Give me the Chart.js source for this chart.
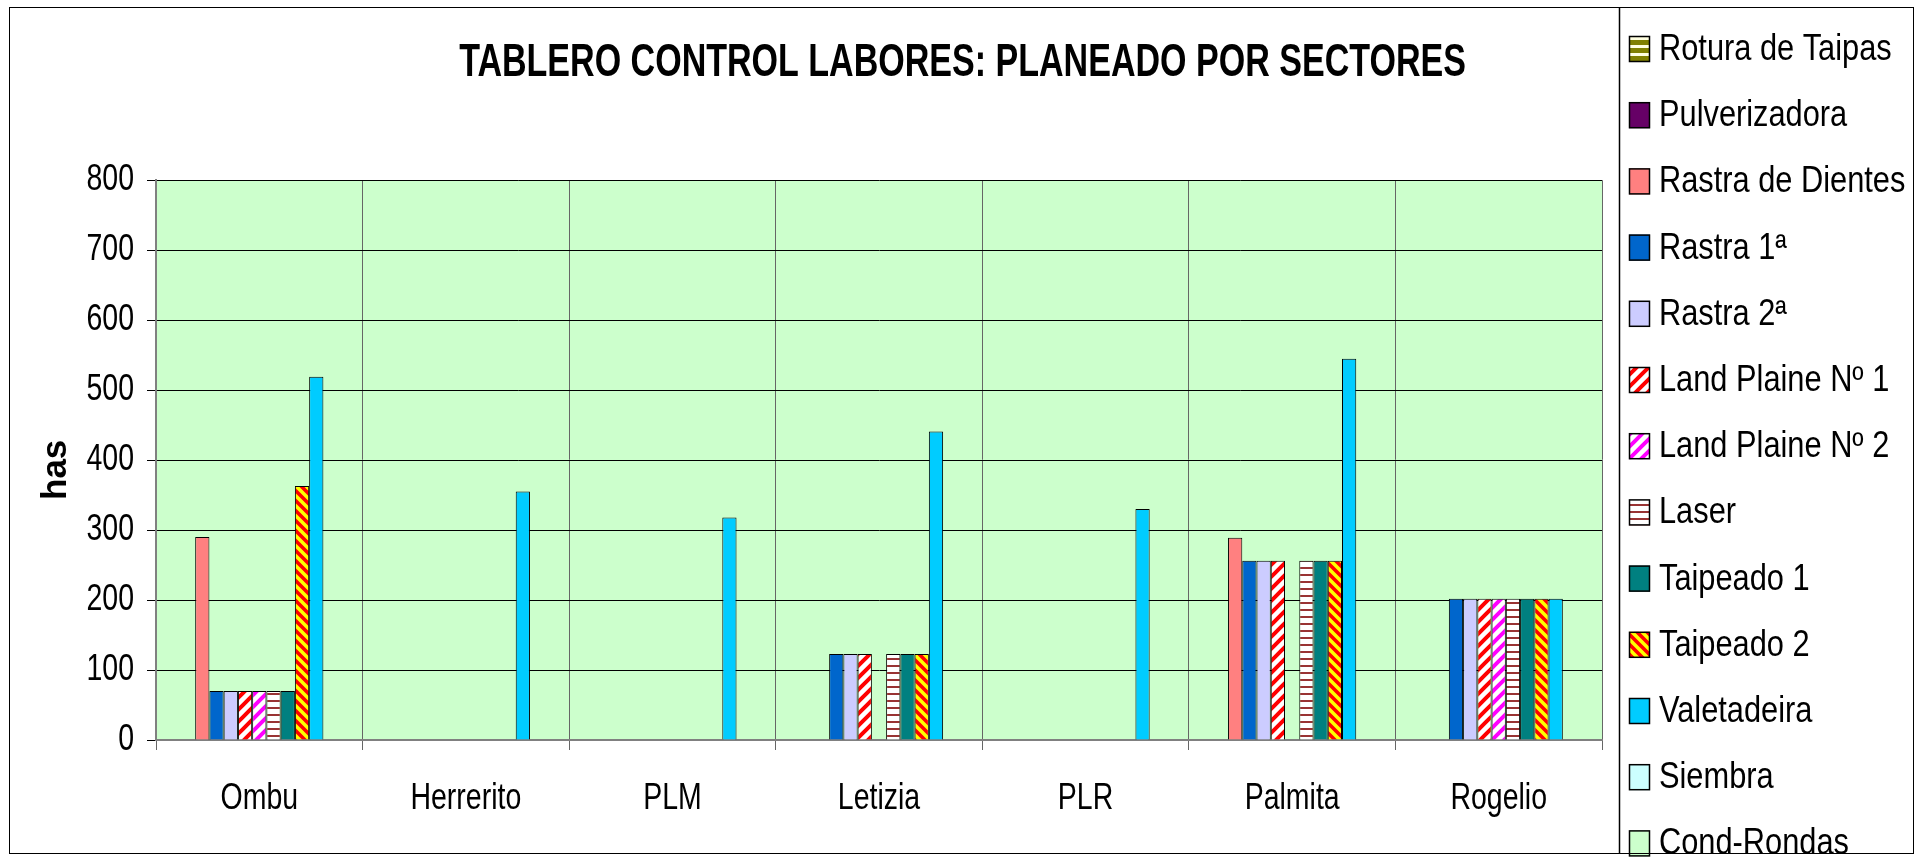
<!DOCTYPE html>
<html>
<head>
<meta charset="utf-8">
<script src="https://cdn.jsdelivr.net/npm/chart.js@4.4.1/dist/chart.umd.min.js"></script>
<style>
  html, body { margin: 0; padding: 0; background: #fff; }
  canvas { display: block; }
</style>
</head>
<body>
<canvas id="chart" width="1925" height="859"></canvas>
<script>
// Categorías (sectores)
const categories = ['Ombu', 'Herrerito', 'PLM', 'Letizia', 'PLR', 'Palmita', 'Rogelio'];

// Series (has) - null = sin barra
const roturaTaipas   = [null, null, null, null, null, null, null];
const pulverizadora  = [null, null, null, null, null, null, null];
const rastraDientes  = [290, null, null, null, null, 289, null];
const rastra1        = [70, null, null, 123, null, 256, 202];
const rastra2        = [70, null, null, 123, null, 256, 202];
const landPlaine1    = [70, null, null, 123, null, 256, 202];
const landPlaine2    = [70, null, null, null, null, null, 202];
const laser          = [70, null, null, 123, null, 256, 202];
const taipeado1      = [70, null, null, 123, null, 256, 202];
const taipeado2      = [363, null, null, 123, null, 256, 202];
const valetadeira    = [519, 355, 318, 441, 330, 545, 202];
const siembra        = [null, null, null, null, null, null, null];
const condRondas     = [null, null, null, null, null, null, null];

const yTicks = [0, 100, 200, 300, 400, 500, 600, 700, 800];

const FONT = "'Liberation Sans', Arial, sans-serif";

// El original tiene el texto estrechado horizontalmente: factor por tamaño de letra
const squeezeBySize = { 46: 0.74, 37: 0.77, 36: 0.855 };

// Tramas (patterns) estilo Excel
function tile(w, h, paint) {
    const c = document.createElement('canvas');
    c.width = w; c.height = h;
    const g = c.getContext('2d');
    paint(g, w, h);
    return g.createPattern(c, 'repeat');
}
function diagonal(bg, fg, size, lw, dir) {
    return tile(size, size, (g, w, h) => {
        g.fillStyle = bg; g.fillRect(0, 0, w, h);
        g.strokeStyle = fg; g.lineWidth = lw;
        g.beginPath();
        if (dir === '/') {
            g.moveTo(-w, 2 * h); g.lineTo(2 * w, -h);
            g.moveTo(-w, h); g.lineTo(w, -h);
            g.moveTo(0, 2 * h); g.lineTo(2 * w, 0);
        } else {
            g.moveTo(-w, -h); g.lineTo(2 * w, 2 * h);
            g.moveTo(-w, 0); g.lineTo(w, 2 * h);
            g.moveTo(0, -h); g.lineTo(2 * w, h);
        }
        g.stroke();
    });
}
function horizontal(bg, fg, size, lw) {
    return tile(4, size, (g, w, h) => {
        g.fillStyle = bg; g.fillRect(0, 0, w, h);
        g.fillStyle = fg; g.fillRect(0, 0, w, lw);
    });
}

const series = [
    { label: 'Rotura de Taipas', data: roturaTaipas, color: horizontal('#FFFFE0', '#808000', 8, 5) },
    { label: 'Pulverizadora', data: pulverizadora, color: '#660066' },
    { label: 'Rastra de Dientes', data: rastraDientes, color: '#FF8080' },
    { label: 'Rastra 1ª', data: rastra1, color: '#0066CC' },
    { label: 'Rastra 2ª', data: rastra2, color: '#CCCCFF' },
    { label: 'Land Plaine Nº 1', data: landPlaine1, color: diagonal('#FFFFFF', '#FF0000', 12, 4, '/') },
    { label: 'Land Plaine Nº 2', data: landPlaine2, color: diagonal('#FFFFFF', '#FF00FF', 12, 4, '/') },
    { label: 'Laser', data: laser, color: horizontal('#FFFFFF', '#993333', 7, 2) },
    { label: 'Taipeado 1', data: taipeado1, color: '#008080' },
    { label: 'Taipeado 2', data: taipeado2, color: diagonal('#FF0000', '#FFFF00', 10, 3.5, '\\') },
    { label: 'Valetadeira', data: valetadeira, color: '#00CCFF' },
    { label: 'Siembra', data: siembra, color: '#CCFFFF' },
    { label: 'Cond-Rondas', data: condRondas, color: '#CCFFCC' }
];

// Estrecha el texto con el maxWidth de fillText
const squeeze = {
    id: 'squeeze',
    beforeInit(chart) {
        const ctx = chart.ctx;
        const fill = ctx.fillText.bind(ctx);
        ctx.fillText = function (text, x, y, maxWidth) {
            const m = /(\d+(?:\.\d+)?)px/.exec(ctx.font);
            const k = (m && squeezeBySize[parseFloat(m[1])]) || 1;
            let w = ctx.measureText(text).width * k;
            if (maxWidth !== undefined && maxWidth < w) w = maxWidth;
            fill(text, x, y, w);
        };
    }
};

// Fondo verde del área de trazado
const plotBackground = {
    id: 'plotBackground',
    beforeDraw(chart) {
        const { ctx, chartArea: a } = chart;
        ctx.save();
        ctx.fillStyle = '#CCFFCC';
        ctx.fillRect(a.left, a.top, a.right - a.left, a.bottom - a.top);
        ctx.restore();
    }
};

// Leyenda a la derecha + marco del gráfico
const sideLegend = {
    id: 'sideLegend',
    afterDraw(chart) {
        const ctx = chart.ctx;
        ctx.save();
        chart.data.datasets.forEach((ds, i) => {
            const y = 49 + i * 66.2;
            ctx.fillStyle = ds.backgroundColor;
            ctx.fillRect(1629, y - 13, 21, 26);
            ctx.strokeStyle = '#000';
            ctx.lineWidth = 1.5;
            ctx.strokeRect(1629.5, y - 12.5, 20, 25);
            ctx.fillStyle = '#000';
            ctx.font = '36px ' + FONT;
            ctx.textBaseline = 'middle';
            ctx.fillText(ds.label, 1659, y + 1);
        });
        ctx.strokeStyle = '#000';
        ctx.lineWidth = 1;
        ctx.strokeRect(9.5, 7.5, 1904, 846);
        ctx.lineWidth = 1.5;
        ctx.beginPath();
        ctx.moveTo(1619.5, 7);
        ctx.lineTo(1619.5, 854);
        ctx.stroke();
        ctx.restore();
    }
};

new Chart(document.getElementById('chart'), {
    type: 'bar',
    data: {
        labels: categories,
        datasets: series.map(s => ({
            label: s.label,
            data: s.data,
            backgroundColor: s.color,
            borderColor: '#000000',
            borderWidth: 1,
            categoryPercentage: 13 / 14.5,
            barPercentage: 1
        }))
    },
    options: {
        responsive: false,
        animation: false,
        layout: { padding: 0 },
        plugins: {
            legend: { display: false },
            tooltip: { enabled: false },
            title: {
                display: true,
                text: 'TABLERO CONTROL LABORES: PLANEADO POR SECTORES',
                color: '#000',
                font: { family: FONT, size: 46, weight: 'bold' },
                padding: { top: 36, bottom: 89 }
            }
        },
        scales: {
            x: {
                grid: { color: '#666666', lineWidth: 1, offset: true, tickLength: 10 },
                border: { color: '#808080', width: 2 },
                ticks: { color: '#000', font: { family: FONT, size: 37 }, padding: 27 },
                afterFit: s => { s.height = 119; }
            },
            y: {
                min: 0,
                max: 800,
                afterBuildTicks: s => { s.ticks = yTicks.map(v => ({ value: v })); },
                grid: { color: '#000000', lineWidth: 1, tickLength: 9 },
                border: { color: '#808080', width: 2 },
                ticks: { color: '#000', font: { family: FONT, size: 37 }, padding: 13 },
                title: {
                    display: true,
                    text: 'has  ',
                    color: '#000',
                    font: { family: FONT, size: 35, weight: 'bold' },
                    padding: { top: 35, bottom: 0 }
                },
                afterFit: s => { s.width = 156; }
            },
            legendSpace: {
                type: 'linear',
                position: 'right',
                grid: { display: false },
                border: { display: false },
                ticks: { display: false },
                afterFit: s => { s.width = 323; }
            }
        }
    },
    plugins: [squeeze, plotBackground, sideLegend]
});
</script>
</body>
</html>
